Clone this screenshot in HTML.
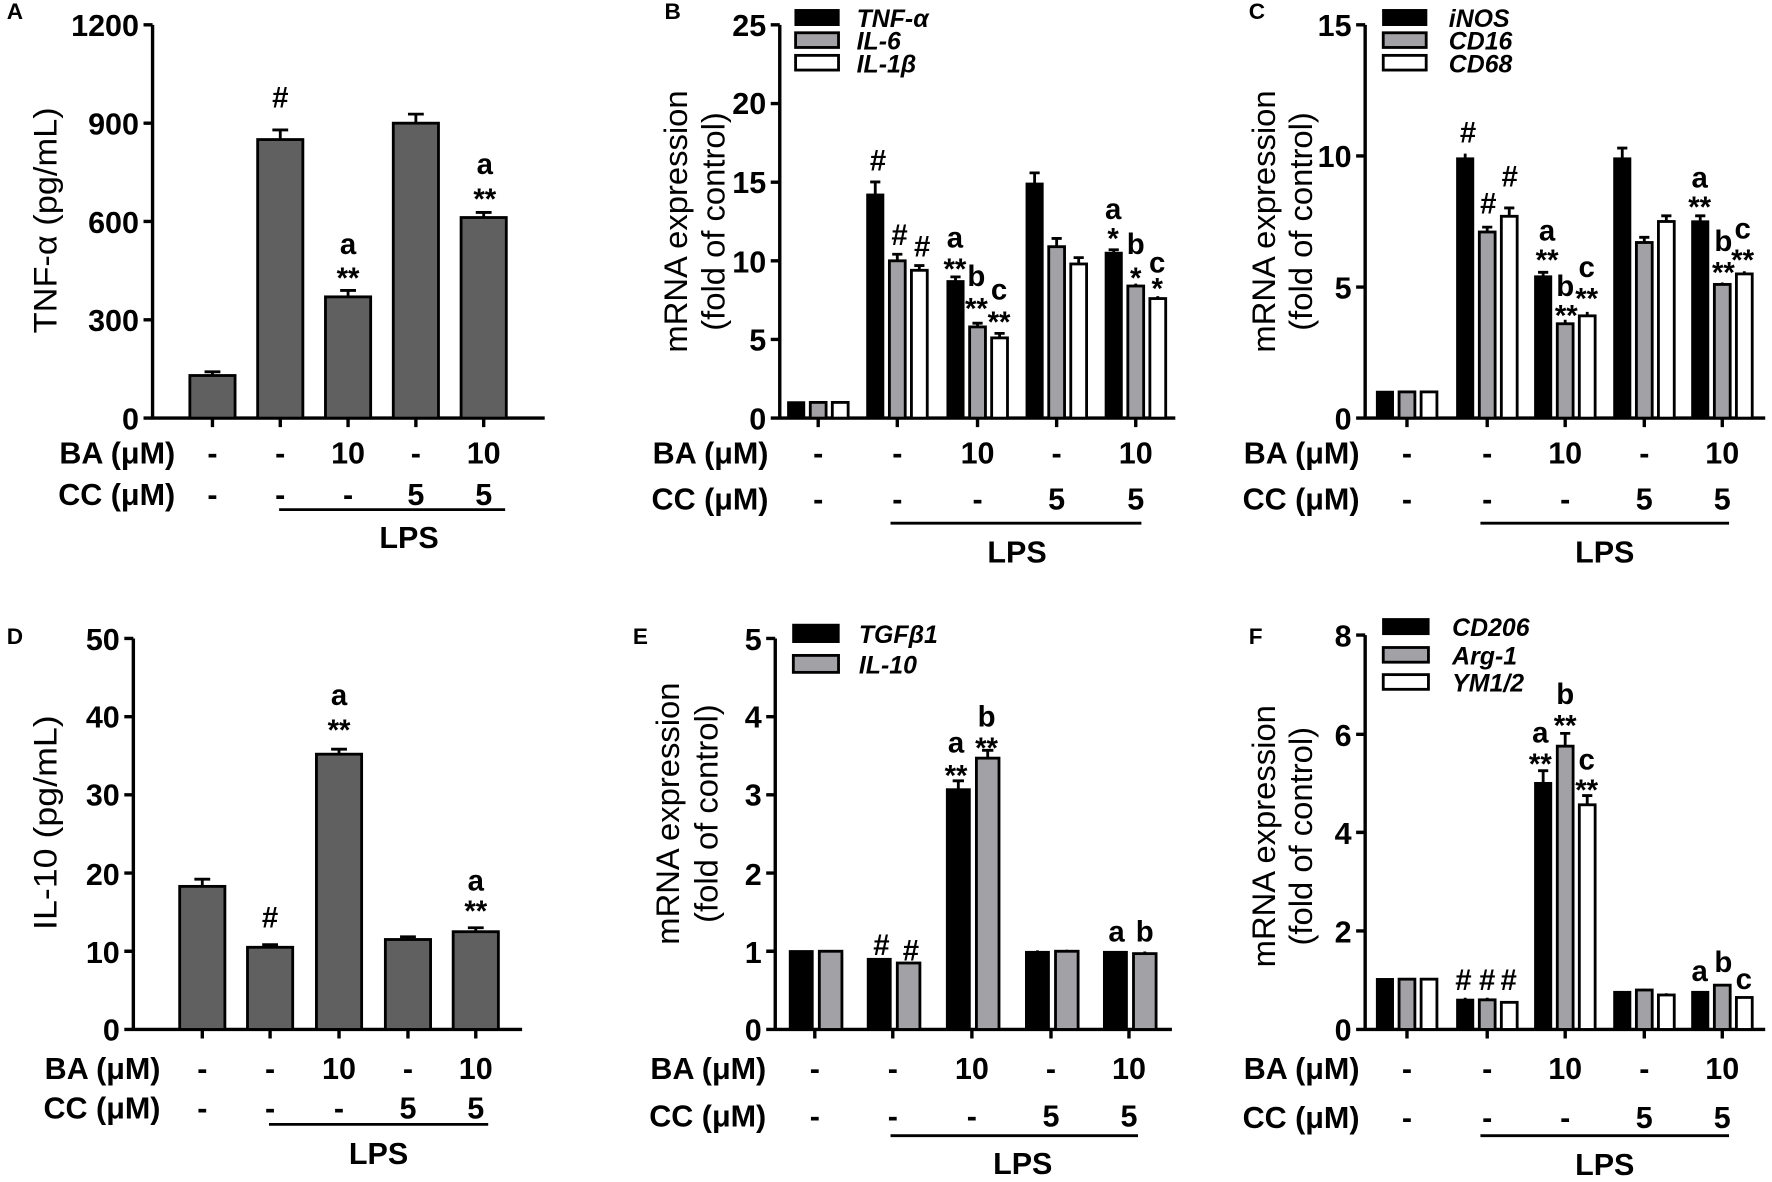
<!DOCTYPE html>
<html><head><meta charset="utf-8"><style>
html,body{margin:0;padding:0;background:#fff;}
svg{display:block;}
text{font-family:"Liberation Sans",Arial,sans-serif;font-weight:bold;fill:#000;}
.t{font-size:27px;text-anchor:end;}
.c{font-size:27px;text-anchor:middle;}
.an{font-size:26px;text-anchor:middle;}
.lg{font-size:22px;font-style:italic;}
.yl{font-size:29px;font-weight:normal;text-anchor:middle;}
.pl{font-size:20px;}
.ax{stroke:#000;stroke-width:3;fill:none;}
.eb{stroke:#000;stroke-width:2.5;fill:none;}
.k{fill:#000;stroke:#000;stroke-width:2;}
.g{fill:#a2a2a6;stroke:#000;stroke-width:2.5;}
.w{fill:#fff;stroke:#000;stroke-width:2.5;}
.d{fill:#606060;stroke:#000;stroke-width:2.5;}
</style></head><body>
<svg width="1772" height="1182" viewBox="0 0 1568 1046" preserveAspectRatio="none" xmlns="http://www.w3.org/2000/svg">
<!-- ============ PANEL A ============ -->
<text class="pl" x="6" y="17">A</text>
<text class="yl" transform="translate(50,195) rotate(-90)" textLength="200" lengthAdjust="spacingAndGlyphs">TNF-α (pg/mL)</text>
<path class="ax" d="M135,22 V370 H482 M127,22 H135 M127,109 H135 M127,196 H135 M127,283 H135 M127,370 H135 M188,370 v8 M248,370 v8 M308,370 v8 M368,370 v8 M428,370 v8"/>
<text class="t" x="123" y="32">1200</text><text class="t" x="123" y="119">900</text><text class="t" x="123" y="206">600</text><text class="t" x="123" y="293">300</text><text class="t" x="123" y="380">0</text>
<rect class="d" x="168" y="332.3" width="40" height="37.7"/>
<rect class="d" x="228" y="123.5" width="40" height="246.5"/>
<rect class="d" x="288" y="262.7" width="40" height="107.3"/>
<rect class="d" x="348" y="109" width="40" height="261"/>
<rect class="d" x="408" y="192.5" width="40" height="177.5"/>
<path class="eb" d="M188,332 v-3 M181,329 h14 M248,123 v-8 M241,115 h14 M308,262 v-5 M301,257 h14 M368,109 v-8 M361,101 h14 M428,192 v-4 M421,188 h14"/>
<text class="an" x="248" y="95">#</text>
<text class="an" x="308" y="225">a</text><text class="an" x="308" y="255">**</text>
<text class="an" x="429" y="154">a</text><text class="an" x="429" y="185">**</text>
<text class="t" x="155" y="410">BA (μM)</text><text class="t" x="155" y="447">CC (μM)</text>
<text class="c" x="188" y="410">-</text><text class="c" x="248" y="410">-</text><text class="c" x="308" y="410">10</text><text class="c" x="368" y="410">-</text><text class="c" x="428" y="410">10</text>
<text class="c" x="188" y="447">-</text><text class="c" x="248" y="447">-</text><text class="c" x="308" y="447">-</text><text class="c" x="368" y="447">5</text><text class="c" x="428" y="447">5</text>
<path class="eb" d="M247,451 H447"/>
<text class="c" x="362" y="485">LPS</text>

<!-- ============ PANEL B ============ -->
<text class="pl" x="588" y="17">B</text>
<text class="yl" transform="translate(608,196) rotate(-90)">mRNA expression</text>
<text class="yl" transform="translate(641,196) rotate(-90)">(fold of control)</text>
<path class="ax" d="M690,22 V370 H1040 M682,22 H690 M682,91.6 H690 M682,161.2 H690 M682,230.8 H690 M682,300.4 H690 M682,370 H690 M724,370 v8 M794,370 v8 M865,370 v8 M935,370 v8 M1005,370 v8"/>
<text class="t" x="678" y="32">25</text><text class="t" x="678" y="101">20</text><text class="t" x="678" y="171">15</text><text class="t" x="678" y="241">10</text><text class="t" x="678" y="310">5</text><text class="t" x="678" y="380">0</text>
<rect class="k" x="704" y="9" width="38" height="13"/><rect class="g" x="704" y="29" width="38" height="13"/><rect class="w" x="704" y="49" width="38" height="13"/>
<text class="lg" x="758" y="24">TNF-α</text><text class="lg" x="758" y="44">IL-6</text><text class="lg" x="758" y="64">IL-1β</text>
<rect class="k" x="697.5" y="356.1" width="14" height="13.9"/><rect class="g" x="717" y="356.1" width="14" height="13.9"/><rect class="w" x="736.5" y="356.1" width="14" height="13.9"/>
<rect class="k" x="767.5" y="172.3" width="14" height="197.7"/><rect class="g" x="787" y="230.8" width="14" height="139.2"/><rect class="w" x="806.5" y="239.2" width="14" height="130.8"/>
<rect class="k" x="838.5" y="248.9" width="14" height="121.1"/><rect class="g" x="858" y="289.3" width="14" height="80.7"/><rect class="w" x="877.5" y="299" width="14" height="71"/>
<rect class="k" x="908.5" y="162.6" width="14" height="207.4"/><rect class="g" x="928" y="218.3" width="14" height="151.7"/><rect class="w" x="947.5" y="233.6" width="14" height="136.4"/>
<rect class="k" x="978.5" y="223.8" width="14" height="146.2"/><rect class="g" x="998" y="253.1" width="14" height="116.9"/><rect class="w" x="1017.5" y="264.2" width="14" height="105.8"/>
<path class="eb" d="M774.5,172 v-11 M770,161 h9 M794,231 v-6 M789.5,225 h9 M813.5,239 v-4 M809,235 h9 M845.5,249 v-4 M841,245 h9 M865,289 v-3 M860.5,286 h9 M884.5,299 v-4 M880,295 h9 M915.5,163 v-10 M911,153 h9 M935,218 v-7 M930.5,211 h9 M954.5,234 v-6 M950,228 h9 M985.5,224 v-3 M981,221 h9 M1005,253 v-2 M1024.5,264 v-2"/>
<text class="an" x="777" y="151">#</text><text class="an" x="796" y="217">#</text><text class="an" x="816" y="227">#</text>
<text class="an" x="845" y="219">a</text><text class="an" x="845" y="247">**</text>
<text class="an" x="864" y="253">b</text><text class="an" x="864" y="282">**</text>
<text class="an" x="884" y="265">c</text><text class="an" x="884" y="294">**</text>
<text class="an" x="985" y="194">a</text><text class="an" x="985" y="220">*</text>
<text class="an" x="1005" y="225">b</text><text class="an" x="1005" y="255">*</text>
<text class="an" x="1024" y="241">c</text><text class="an" x="1024" y="264">*</text>
<text class="t" x="680" y="410">BA (μM)</text><text class="t" x="680" y="451">CC (μM)</text>
<text class="c" x="724" y="410">-</text><text class="c" x="794" y="410">-</text><text class="c" x="865" y="410">10</text><text class="c" x="935" y="410">-</text><text class="c" x="1005" y="410">10</text>
<text class="c" x="724" y="451">-</text><text class="c" x="794" y="451">-</text><text class="c" x="865" y="451">-</text><text class="c" x="935" y="451">5</text><text class="c" x="1005" y="451">5</text>
<path class="eb" d="M788,463 H1010"/>
<text class="c" x="900" y="498">LPS</text>

<!-- ============ PANEL C ============ -->
<text class="pl" x="1105" y="17">C</text>
<text class="yl" transform="translate(1128,196) rotate(-90)">mRNA expression</text>
<text class="yl" transform="translate(1161,196) rotate(-90)">(fold of control)</text>
<path class="ax" d="M1208,22 V370 H1562 M1200,22 H1208 M1200,138 H1208 M1200,254 H1208 M1200,370 H1208 M1245,370 v8 M1316,370 v8 M1385,370 v8 M1455,370 v8 M1524,370 v8"/>
<text class="t" x="1196" y="32">15</text><text class="t" x="1196" y="148">10</text><text class="t" x="1196" y="264">5</text><text class="t" x="1196" y="380">0</text>
<rect class="k" x="1224" y="9" width="38" height="13"/><rect class="g" x="1224" y="29" width="38" height="13"/><rect class="w" x="1224" y="49" width="38" height="13"/>
<text class="lg" x="1282" y="24">iNOS</text><text class="lg" x="1282" y="44">CD16</text><text class="lg" x="1282" y="64">CD68</text>
<rect class="k" x="1218.5" y="346.8" width="14" height="23.2"/><rect class="g" x="1238" y="346.8" width="14" height="23.2"/><rect class="w" x="1257.5" y="346.8" width="14" height="23.2"/>
<rect class="k" x="1289.5" y="140.3" width="14" height="229.7"/><rect class="g" x="1309" y="205.3" width="14" height="164.7"/><rect class="w" x="1328.5" y="191.4" width="14" height="178.6"/>
<rect class="k" x="1358.5" y="244.7" width="14" height="125.3"/><rect class="g" x="1378" y="286.5" width="14" height="83.5"/><rect class="w" x="1397.5" y="279.5" width="14" height="90.5"/>
<rect class="k" x="1428.5" y="140.3" width="14" height="229.7"/><rect class="g" x="1448" y="214.6" width="14" height="155.4"/><rect class="w" x="1467.5" y="196" width="14" height="174"/>
<rect class="k" x="1497.5" y="196" width="14" height="174"/><rect class="g" x="1517" y="251.7" width="14" height="118.3"/><rect class="w" x="1536.5" y="242.4" width="14" height="127.6"/>
<path class="eb" d="M1296.5,140 v-4 M1316,205 v-4 M1311.5,201 h9 M1335.5,191 v-7 M1331,184 h9 M1365.5,245 v-4 M1361,241 h9 M1385,286 v-3 M1404.5,279 v-3 M1435.5,140 v-9 M1431,131 h9 M1455,215 v-5 M1450.5,210 h9 M1474.5,196 v-5 M1470,191 h9 M1504.5,196 v-5 M1500,191 h9 M1524,252 v-2 M1543.5,242 v-2"/>
<text class="an" x="1299" y="126">#</text><text class="an" x="1317" y="189">#</text><text class="an" x="1336" y="165">#</text>
<text class="an" x="1369" y="213">a</text><text class="an" x="1369" y="239">**</text>
<text class="an" x="1385" y="262">b</text><text class="an" x="1386" y="288">**</text>
<text class="an" x="1404" y="245">c</text><text class="an" x="1404" y="273">**</text>
<text class="an" x="1504" y="166">a</text><text class="an" x="1504" y="192">**</text>
<text class="an" x="1525" y="222">b</text><text class="an" x="1525" y="250">**</text>
<text class="an" x="1542" y="211">c</text><text class="an" x="1542" y="239">**</text>
<text class="t" x="1203" y="410">BA (μM)</text><text class="t" x="1203" y="451">CC (μM)</text>
<text class="c" x="1245" y="410">-</text><text class="c" x="1316" y="410">-</text><text class="c" x="1385" y="410">10</text><text class="c" x="1455" y="410">-</text><text class="c" x="1524" y="410">10</text>
<text class="c" x="1245" y="451">-</text><text class="c" x="1316" y="451">-</text><text class="c" x="1385" y="451">-</text><text class="c" x="1455" y="451">5</text><text class="c" x="1524" y="451">5</text>
<path class="eb" d="M1310,463 H1530"/>
<text class="c" x="1420" y="498">LPS</text>

<!-- ============ PANEL D ============ -->
<text class="pl" x="6" y="570">D</text>
<text class="yl" transform="translate(50,728) rotate(-90)" textLength="190" lengthAdjust="spacingAndGlyphs">IL-10  (pg/mL)</text>
<path class="ax" d="M118,565 V911 H462 M110,565 H118 M110,634.2 H118 M110,703.4 H118 M110,772.6 H118 M110,841.8 H118 M110,911 H118 M179,911 v8 M239,911 v8 M300,911 v8 M361,911 v8 M421,911 v8"/>
<text class="t" x="106" y="575">50</text><text class="t" x="106" y="644">40</text><text class="t" x="106" y="713">30</text><text class="t" x="106" y="783">20</text><text class="t" x="106" y="852">10</text><text class="t" x="106" y="921">0</text>
<rect class="d" x="159" y="784.4" width="40" height="126.6"/>
<rect class="d" x="219" y="838.3" width="40" height="72.7"/>
<rect class="d" x="280" y="667.4" width="40" height="243.6"/>
<rect class="d" x="341" y="831.4" width="40" height="79.6"/>
<rect class="d" x="401" y="824.5" width="40" height="86.5"/>
<path class="eb" d="M179,784 v-6 M172,778 h14 M239,838 v-2 M232,836 h14 M300,667 v-4 M293,663 h14 M361,831 v-2 M354,829 h14 M421,824 v-3 M414,821 h14"/>
<text class="an" x="239" y="821">#</text>
<text class="an" x="300" y="624">a</text><text class="an" x="300" y="655">**</text>
<text class="an" x="421" y="788">a</text><text class="an" x="421" y="815">**</text>
<text class="t" x="142" y="955">BA (μM)</text><text class="t" x="142" y="990">CC (μM)</text>
<text class="c" x="179" y="955">-</text><text class="c" x="239" y="955">-</text><text class="c" x="300" y="955">10</text><text class="c" x="361" y="955">-</text><text class="c" x="421" y="955">10</text>
<text class="c" x="179" y="990">-</text><text class="c" x="239" y="990">-</text><text class="c" x="300" y="990">-</text><text class="c" x="361" y="990">5</text><text class="c" x="421" y="990">5</text>
<path class="eb" d="M238,995 H432"/>
<text class="c" x="335" y="1030">LPS</text>

<!-- ============ PANEL E ============ -->
<text class="pl" x="560" y="570">E</text>
<text class="yl" transform="translate(601,720) rotate(-90)">mRNA expression</text>
<text class="yl" transform="translate(635,720) rotate(-90)">(fold of control)</text>
<path class="ax" d="M686,565 V911 H1037 M678,565 H686 M678,634.2 H686 M678,703.4 H686 M678,772.6 H686 M678,841.8 H686 M678,911 H686 M721,911 v8 M790,911 v8 M860,911 v8 M930,911 v8 M999,911 v8"/>
<text class="t" x="674" y="575">5</text><text class="t" x="674" y="644">4</text><text class="t" x="674" y="713">3</text><text class="t" x="674" y="783">2</text><text class="t" x="674" y="852">1</text><text class="t" x="674" y="921">0</text>
<rect class="k" x="702" y="553" width="40" height="15"/><rect class="g" x="702" y="580" width="40" height="15"/>
<text class="lg" x="760" y="569">TGFβ1</text><text class="lg" x="760" y="596">IL-10</text>
<rect class="k" x="699" y="841.8" width="20" height="69.2"/><rect class="g" x="725" y="841.8" width="20" height="69.2"/>
<rect class="k" x="768" y="848.7" width="20" height="62.3"/><rect class="g" x="794" y="852.2" width="20" height="58.8"/>
<rect class="k" x="838" y="698.6" width="20" height="212.4"/><rect class="g" x="864" y="670.9" width="20" height="240.1"/>
<rect class="k" x="908" y="842.5" width="20" height="68.5"/><rect class="g" x="934" y="841.8" width="20" height="69.2"/>
<rect class="k" x="977" y="842.5" width="20" height="68.5"/><rect class="g" x="1003" y="843.9" width="20" height="67.1"/>
<path class="eb" d="M848,698 v-7 M843,691 h10 M874,671 v-7 M869,664 h10 M918,842 v-1 M944,842 v-1.5 M1013,844 v-2"/>
<text class="an" x="780" y="845">#</text><text class="an" x="806" y="850">#</text>
<text class="an" x="846" y="666">a</text><text class="an" x="846" y="695">**</text>
<text class="an" x="873" y="643">b</text><text class="an" x="873" y="671">**</text>
<text class="an" x="988" y="833">a</text><text class="an" x="1013" y="833">b</text>
<text class="t" x="678" y="955">BA (μM)</text><text class="t" x="678" y="997">CC (μM)</text>
<text class="c" x="721" y="955">-</text><text class="c" x="790" y="955">-</text><text class="c" x="860" y="955">10</text><text class="c" x="930" y="955">-</text><text class="c" x="999" y="955">10</text>
<text class="c" x="721" y="997">-</text><text class="c" x="790" y="997">-</text><text class="c" x="860" y="997">-</text><text class="c" x="930" y="997">5</text><text class="c" x="999" y="997">5</text>
<path class="eb" d="M788,1005 H1007"/>
<text class="c" x="905" y="1039">LPS</text>

<!-- ============ PANEL F ============ -->
<text class="pl" x="1105" y="570">F</text>
<text class="yl" transform="translate(1128,740) rotate(-90)">mRNA expression</text>
<text class="yl" transform="translate(1161,740) rotate(-90)">(fold of control)</text>
<path class="ax" d="M1208,562 V911 H1562 M1200,562 H1208 M1200,649.8 H1208 M1200,736.6 H1208 M1200,823.8 H1208 M1200,911 H1208 M1245,911 v8 M1316,911 v8 M1385,911 v8 M1455,911 v8 M1524,911 v8"/>
<text class="t" x="1196" y="572">8</text><text class="t" x="1196" y="660">6</text><text class="t" x="1196" y="747">4</text><text class="t" x="1196" y="834">2</text><text class="t" x="1196" y="921">0</text>
<rect class="k" x="1224" y="548" width="40" height="13"/><rect class="g" x="1224" y="573" width="40" height="13"/><rect class="w" x="1224" y="597" width="40" height="13"/>
<text class="lg" x="1285" y="563">CD206</text><text class="lg" x="1285" y="588">Arg-1</text><text class="lg" x="1285" y="612">YM1/2</text>
<rect class="k" x="1218.5" y="866.5" width="14" height="44.5"/><rect class="g" x="1238" y="866.5" width="14" height="44.5"/><rect class="w" x="1257.5" y="866.5" width="14" height="44.5"/>
<rect class="k" x="1289.5" y="884.8" width="14" height="26.2"/><rect class="g" x="1309" y="884.8" width="14" height="26.2"/><rect class="w" x="1328.5" y="887" width="14" height="24"/>
<rect class="k" x="1358.5" y="693" width="14" height="218"/><rect class="g" x="1378" y="660.3" width="14" height="250.7"/><rect class="w" x="1397.5" y="712.2" width="14" height="198.8"/>
<rect class="k" x="1428.5" y="877.9" width="14" height="33.1"/><rect class="g" x="1448" y="876.1" width="14" height="34.9"/><rect class="w" x="1467.5" y="880.5" width="14" height="30.5"/>
<rect class="k" x="1497.5" y="877.9" width="14" height="33.1"/><rect class="g" x="1517" y="871.8" width="14" height="39.2"/><rect class="w" x="1536.5" y="882.7" width="14" height="28.3"/>
<path class="eb" d="M1296.5,885 v-2 M1316,885 v-2 M1365.5,693 v-11 M1361,682 h9 M1385,660 v-11 M1380.5,649 h9 M1404.5,712 v-8 M1400,704 h9 M1435.5,878 v-1 M1455,876 v-1 M1474.5,880 v-1 M1504.5,878 v-1 M1524,872 v-1 M1543.5,883 v-1"/>
<text class="an" x="1295" y="876">#</text><text class="an" x="1316" y="876">#</text><text class="an" x="1335" y="876">#</text>
<text class="an" x="1363" y="657">a</text><text class="an" x="1363" y="685">**</text>
<text class="an" x="1385" y="623">b</text><text class="an" x="1385" y="651">**</text>
<text class="an" x="1404" y="681">c</text><text class="an" x="1404" y="708">**</text>
<text class="an" x="1504" y="868">a</text><text class="an" x="1525" y="860">b</text><text class="an" x="1543" y="875">c</text>
<text class="t" x="1203" y="955">BA (μM)</text><text class="t" x="1203" y="998">CC (μM)</text>
<text class="c" x="1245" y="955">-</text><text class="c" x="1316" y="955">-</text><text class="c" x="1385" y="955">10</text><text class="c" x="1455" y="955">-</text><text class="c" x="1524" y="955">10</text>
<text class="c" x="1245" y="998">-</text><text class="c" x="1316" y="998">-</text><text class="c" x="1385" y="998">-</text><text class="c" x="1455" y="998">5</text><text class="c" x="1524" y="998">5</text>
<path class="eb" d="M1310,1005 H1530"/>
<text class="c" x="1420" y="1040">LPS</text>
</svg>
</body></html>
